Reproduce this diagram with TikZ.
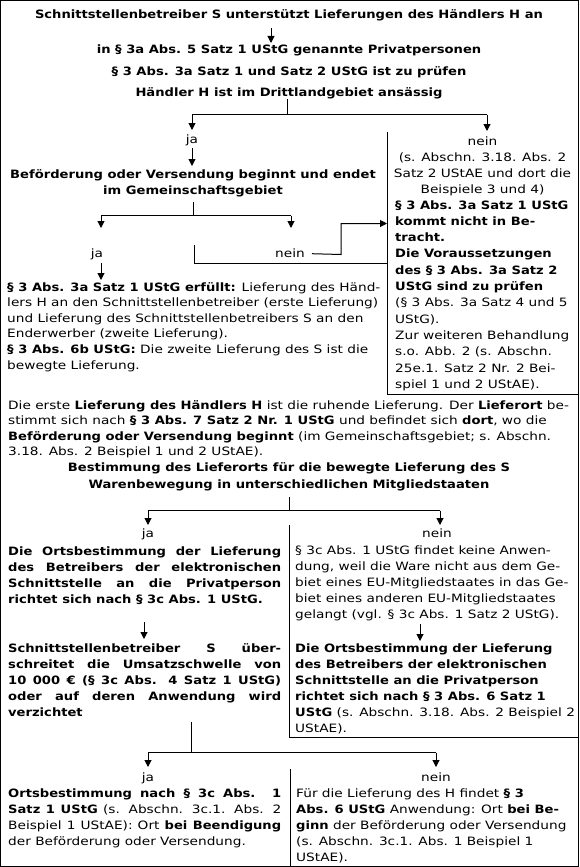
\documentclass[tikz,border=0pt]{standalone}
\usepackage{fontspec}
\setmainfont{DejaVu Sans}[FakeStretch=1.19, BoldFeatures={FakeStretch=1.14}]
\usetikzlibrary{arrows.meta}
\newcommand{\jline}[1]{\makebox[273pt][s]{#1}}
\begin{document}
\begin{tikzpicture}[x=1pt,y=-1pt,
  txt/.style={inner sep=0pt, font=\fontsize{11.5}{16}\selectfont},
  ttl/.style={txt, font=\fontsize{11.5}{16}\selectfont\bfseries, anchor=base},
  ln/.style={line width=1pt},
  arr/.style={line width=1pt, -{Triangle[width=7pt,length=7pt]}},
]
\useasboundingbox (0,0) rectangle (579,867);
\draw[ln] (0.5,0.5) rectangle (578.5,866.5);

% ---- top titles
\node[ttl] (t1) at (289,19) {Schnittstellenbetreiber S unterstützt Lieferungen des Händlers H an};
\node[ttl] (t2) at (289,53) {in § 3a Abs. 5 Satz 1 UStG genannte Privatpersonen};
\node[ttl] (t3) at (289,75) {§ 3 Abs. 3a Satz 1 und Satz 2 UStG ist zu prüfen};
\node[ttl] (t4) at (289,96) {Händler H ist im Drittlandgebiet ansässig};
\coordinate (a1s) at (271,28); \coordinate (a1e) at (271,43);
\draw[arr] (a1s) -- (a1e);

% ---- first split
\coordinate (s1a) at (287,99); \coordinate (s1b) at (287,114.5);
\coordinate (s1l) at (192,114.5); \coordinate (s1r) at (487,114.5);
\coordinate (s1le) at (192,130); \coordinate (s1re) at (487,131);
\draw[ln] (s1a) -- (s1b);
\draw[ln] (s1l) -- (s1r);
\draw[arr] (s1l) -- (s1le);
\draw[arr] (s1r) -- (s1re);

\node[txt,anchor=base] (ja1) at (192,143) {ja};
\coordinate (a2s) at (192,148); \coordinate (a2e) at (192,166);
\draw[arr] (a2s) -- (a2e);
\node[ttl,align=center] (q2) at (193,194) {Beförderung oder Versendung beginnt und endet\\im Gemeinschaftsgebiet};

% ---- second split
\coordinate (s2a) at (193,202); \coordinate (s2b) at (193,215.5);
\coordinate (s2l) at (101,215.5); \coordinate (s2r) at (291,215.5);
\coordinate (s2le) at (101,228); \coordinate (s2re) at (291,228);
\draw[ln] (s2a) -- (s2b);
\draw[ln] (s2l) -- (s2r);
\draw[arr] (s2l) -- (s2le);
\draw[arr] (s2r) -- (s2re);
\node[txt,anchor=base] (ja2) at (97,257) {ja};
\node[txt,anchor=base] (nein2) at (290,257) {nein};
\coordinate (n2a) at (341,254.5); \coordinate (n2b) at (341,223.5); \coordinate (n2c) at (387,223.5);
\draw[arr] (nein2.east) ++(7pt,-1pt) -- (n2a) -- (n2b) -- (n2c);
\coordinate (lbx1) at (194,245); \coordinate (lbx2) at (194,263.5); \coordinate (lbx3) at (387,263.5);
\draw[ln] (lbx1) -- (lbx2) -- (lbx3);
\coordinate (a3s) at (101,263); \coordinate (a3e) at (101,280);
\draw[arr] (a3s) -- (a3e);

% ---- right box (top)
\coordinate (rbt) at (387.5,132); \coordinate (rbb) at (387.5,394.5); \coordinate (rbr) at (578,394.5);
\draw[ln] (rbt) -- (rbb) -- (rbr);
\node[txt,anchor=base,align=center] (rb1) at (482.5,193) {nein\\(s. Abschn. 3.18. Abs. 2\\Satz 2 UStAE und dort die\\Beispiele 3 und 4)};
\node[txt,anchor=base west,align=left,font=\fontsize{11.5}{16.3}\selectfont] (rb2) at (395,388.3) {\textbf{§ 3 Abs. 3a Satz 1 UStG}\\\textbf{kommt nicht in Be-}\\\textbf{tracht.}\\\textbf{Die Voraussetzungen}\\\textbf{des § 3 Abs. 3a Satz 2}\\\textbf{UStG sind zu prüfen}\\(§ 3 Abs. 3a Satz 4 und 5\\UStG).\\Zur weiteren Behandlung\\s.o. Abb. 2 (s. Abschn.\\25e.1. Satz 2 Nr. 2 Bei-\\spiel 1 und 2 UStAE).};

% ---- left box
\node[txt,anchor=base west,align=left,font=\fontsize{11.5}{15.6}\selectfont] (lb) at (7,369) {\textbf{§ 3 Abs. 3a Satz 1 UStG erfüllt:} Lieferung des Händ-\\lers H an den Schnittstellenbetreiber (erste Lieferung)\\und Lieferung des Schnittstellenbetreibers S an den\\Enderwerber (zweite Lieferung).\\\textbf{§ 3 Abs. 6b UStG:} Die zweite Lieferung des S ist die\\bewegte Lieferung.};

% ---- paragraph
\node[txt,anchor=base west,align=left,font=\fontsize{11.5}{15.5}\selectfont] (p1) at (8,455.5) {Die erste \textbf{Lieferung des Händlers H} ist die ruhende Lieferung. Der \textbf{Lieferort} be-\\stimmt sich nach \textbf{§ 3 Abs. 7 Satz 2 Nr. 1 UStG} und befindet sich \textbf{dort}, wo die\\\textbf{Beförderung oder Versendung beginnt} (im Gemeinschaftsgebiet; s. Abschn.\\3.18. Abs. 2 Beispiel 1 und 2 UStAE).};
\node[ttl,align=center,font=\fontsize{11.5}{17}\selectfont\bfseries] (q3) at (289,488) {Bestimmung des Lieferorts für die bewegte Lieferung des S\\Warenbewegung in unterschiedlichen Mitgliedstaaten};

% ---- third split
\coordinate (s3a) at (289,497); \coordinate (s3b) at (289,510.5);
\coordinate (s3l) at (148,510.5); \coordinate (s3r) at (440,510.5);
\coordinate (s3le) at (148,525); \coordinate (s3re) at (440,525);
\draw[ln] (s3a) -- (s3b);
\draw[ln] (s3l) -- (s3r);
\draw[arr] (s3l) -- (s3le);
\draw[arr] (s3r) -- (s3re);
\node[txt,anchor=base] (ja3) at (148,537) {ja};
\node[txt,anchor=base] (nein3) at (437,537) {nein};
\coordinate (d3t) at (289.5,525); \coordinate (d3b) at (289.5,737.5); \coordinate (d3r) at (578,737.5);
\draw[ln] (d3t) -- (d3b) -- (d3r);

% left column
\node[txt,anchor=base west,align=left,font=\fontsize{11.5}{16}\selectfont\bfseries] (l1) at (8,603) {\jline{Die Ortsbestimmung der Lieferung}\\\jline{des Betreibers der elektronischen}\\\jline{Schnittstelle an die Privatperson}\\richtet sich nach § 3c Abs. 1 UStG.};
\coordinate (a4s) at (144,622); \coordinate (a4e) at (144,639);
\draw[arr] (a4s) -- (a4e);
\node[txt,anchor=base west,align=left,font=\fontsize{11.5}{16}\selectfont\bfseries] (l2) at (8,716) {\jline{Schnittstellenbetreiber S über-}\\\jline{schreitet die Umsatzschwelle von}\\\jline{10 000 € (§ 3c Abs. 4 Satz 1 UStG)}\\\jline{oder auf deren Anwendung wird}\\verzichtet};

% right column
\node[txt,anchor=base west,align=left] (r1) at (295,618) {§ 3c Abs. 1 UStG findet keine Anwen-\\dung, weil die Ware nicht aus dem Ge-\\biet eines EU-Mitgliedstaates in das Ge-\\biet eines anderen EU-Mitgliedstaates\\gelangt (vgl. § 3c Abs. 1 Satz 2 UStG).};
\coordinate (a5s) at (420,624); \coordinate (a5e) at (420,641);
\draw[arr] (a5s) -- (a5e);
\node[txt,anchor=base west,align=left] (r2) at (295,732) {\textbf{Die Ortsbestimmung der Lieferung}\\\textbf{des Betreibers der elektronischen}\\\textbf{Schnittstelle an die Privatperson}\\\textbf{richtet sich nach § 3 Abs. 6 Satz 1}\\\textbf{UStG} (s. Abschn. 3.18. Abs. 2 Beispiel 2\\UStAE).};

% ---- fourth split
\coordinate (s4a) at (191,722); \coordinate (s4b) at (191,752.5);
\coordinate (s4l) at (148,752.5); \coordinate (s4r) at (436,752.5);
\coordinate (s4le) at (148,767); \coordinate (s4re) at (436,767);
\draw[ln] (s4a) -- (s4b);
\draw[ln] (s4l) -- (s4r);
\draw[arr] (s4l) -- (s4le);
\draw[arr] (s4r) -- (s4re);
\coordinate (d4t) at (290.5,769); \coordinate (d4b) at (290.5,866);
\draw[ln] (d4t) -- (d4b);
\node[txt,anchor=base] (ja4) at (148,781) {ja};
\node[txt,anchor=base] (nein4) at (436,781) {nein};
\node[txt,anchor=base west,align=left] (l3) at (8,845) {\jline{\textbf{Ortsbestimmung nach § 3c Abs. 1}}\\\jline{\textbf{Satz 1 UStG} (s. Abschn. 3c.1. Abs. 2}\\\jline{Beispiel 1 UStAE): Ort \textbf{bei Beendigung}}\\der Beförderung oder Versendung.};
\node[txt,anchor=base west,align=left] (r3) at (296,861) {Für die Lieferung des H findet \textbf{§ 3}\\\textbf{Abs. 6 UStG} Anwendung: Ort \textbf{bei Be-}\\\textbf{ginn} der Beförderung oder Versendung\\(s. Abschn. 3c.1. Abs. 1 Beispiel 1\\UStAE).};
\end{tikzpicture}
\end{document}
